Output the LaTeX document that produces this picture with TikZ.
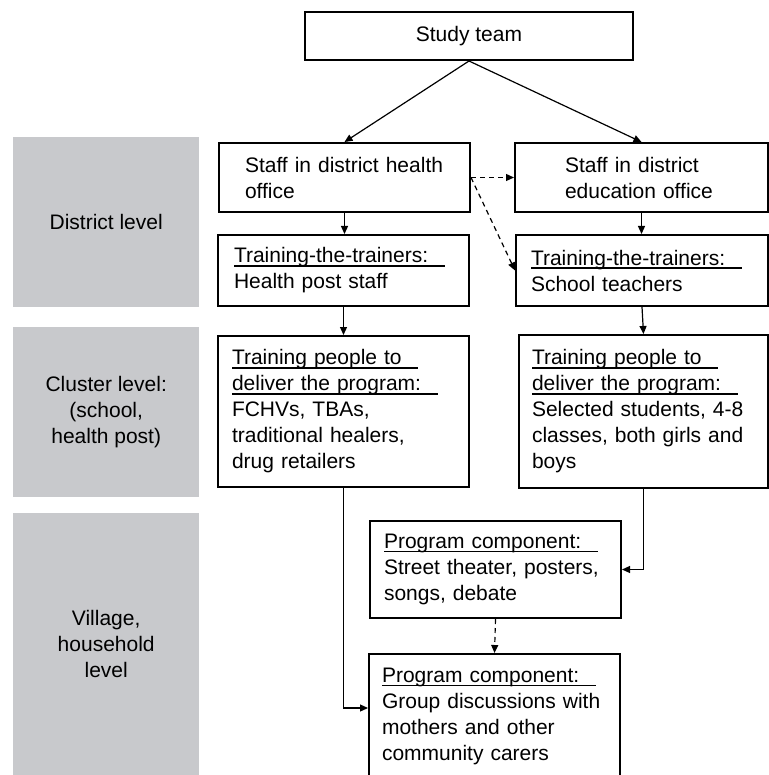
\documentclass[tikz,border=0pt]{standalone}
\usepackage{fontspec}
\setmainfont{Liberation Sans}
\usetikzlibrary{arrows.meta,calc}
\definecolor{levelgray}{RGB}{200,201,204}
\newsavebox{\headbox}
\newcommand{\head}[1]{\leavevmode\sbox{\headbox}{#1\hspace{0.8em}}\rlap{\rule[-3.6pt]{\wd\headbox}{1.4pt}}\usebox{\headbox}}
\begin{document}
\begin{tikzpicture}[
        x=1pt, y=-1pt,
        font=\fontsize{21}{26}\selectfont,
        unit/.style={rectangle, draw, line width=2pt, anchor=north west, align=left, inner ysep=0pt},
        level/.style={rectangle, fill=levelgray, anchor=north west, align=center, minimum width=186pt, inner sep=0pt},
        arrow/.style={-{Triangle[length=8pt,width=7pt]}, line width=1.2pt},
        dasharrow/.style={arrow, dash pattern=on 5pt off 4pt}
    ]
        \useasboundingbox (0,0) rectangle (768,775);

        % Levels
        \node[level, minimum height=170pt] (district) at (13,137) {District level};
        \node[level, minimum height=170pt] (cluster) at (13,327) {Cluster level:\\(school,\\health post)};
        \node[level, minimum height=262pt] (village) at (13,513) {Village,\\household\\level};

        % Study team
        \node[unit, align=center, minimum width=328pt, minimum height=48pt] (team) at (304,11) {Study team};

        % District offices
        \node[unit, inner xsep=26pt, text width=199pt, minimum height=69pt] (healthstaff) at (218,142) {Staff in district health\\office};
        \node[unit, inner xsep=50pt, text width=153pt, minimum height=69pt] (edustaff) at (514,142) {Staff in district\\education office};

        % Training the trainers
        \node[unit, inner xsep=16pt, text width=219pt, minimum height=71pt] (healthtot) at (217,234) {\head{Training-the-trainers:}\\Health post staff};
        \node[unit, inner xsep=15pt, text width=222pt, minimum height=71pt] (edutot) at (515,234) {\head{Training-the-trainers:}\\School teachers};

        % Cluster level
        \node[unit, inner xsep=14pt, text width=223pt, minimum height=151pt] (healthclu) at (217,335) {\head{Training people to}\\\head{deliver the program:}\\FCHVs, TBAs,\\traditional healers,\\drug retailers};
        \node[unit, inner xsep=13pt, text width=223pt, minimum height=153pt] (educlu) at (518,334) {\head{Training people to}\\\head{deliver the program:}\\Selected students, 4-8\\classes, both girls and\\boys};

        % Program components
        \node[unit, inner xsep=14pt, text width=223pt, minimum height=97pt] (prog1) at (369,520) {\head{Program component:}\\Street theater, posters,\\songs, debate};
        \node[unit, inner xsep=13pt, text width=225pt, minimum height=125pt] (prog2) at (368,653) {\head{Program component:}\\Group discussions with\\mothers and other\\community carers};

        % Arrows
        \draw[arrow] (team.south) -- (healthstaff.north);
        \draw[arrow] (team.south) -- (edustaff.north);
        \draw[dasharrow] (healthstaff.east) -- (edustaff.west);
        \draw[dasharrow] (healthstaff.east) -- (edutot.west);
        \draw[arrow] (healthstaff.south) -- (healthstaff.south |- healthtot.north);
        \draw[arrow] (edustaff.south) -- (edustaff.south |- edutot.north);
        \draw[arrow] (healthtot.south) -- (healthtot.south |- healthclu.north);
        \draw[arrow] (edutot.south) -- (educlu.north);
        \draw[arrow] (healthclu.south) |- ($(prog2.north west)+(0,55)$);
        \draw[arrow] (educlu.south) |- (prog1.east);
        \draw[dasharrow] (prog1.south) -- (prog2.north);
    \end{tikzpicture}
\end{document}
